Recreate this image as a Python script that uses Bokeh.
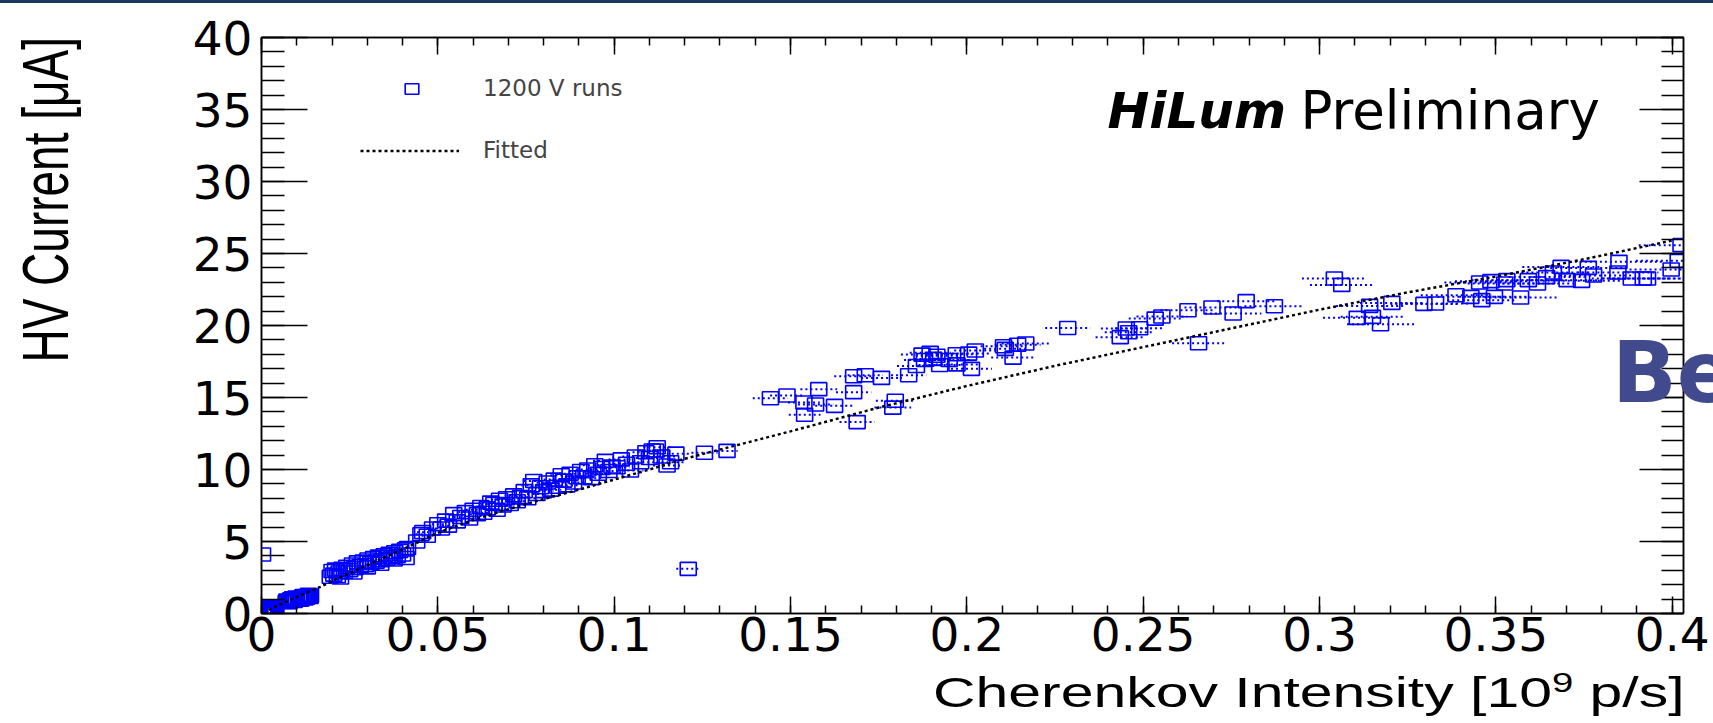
import math
from bokeh.plotting import figure
from bokeh.models import (Range1d, FixedTicker, LinearAxis, Label, Legend, LegendItem,
                          Div, ColumnDataSource, CustomLabelingPolicy)
from bokeh.layouts import column
from bokeh.embed import file_html
from bokeh.resources import INLINE

# ---------------- data ----------------
# Cherenkov intensity [1e9 p/s] and HV current [uA]
cher_A = [0.0004, 0.0008, 0.0012, 0.0016, 0.0020, 0.0024, 0.0028, 0.0032, 0.0036, 0.0040,
          0.0006, 0.0010, 0.0014, 0.0018, 0.0022, 0.0026, 0.0030, 0.0034,
          0.0005, 0.0015, 0.0025, 0.0035, 0.0010, 0.0020, 0.0030, 0.0040, 0.0008, 0.0038]
curr_A = [0.02, 0.08, 0.12, 0.18, 0.22, 0.28, 0.32, 0.38, 0.42, 0.45,
          0.30, 0.40, 0.00, 0.05, 0.10, 0.15, 0.10, 0.25,
          0.20, 0.30, 0.40, 0.20, 0.15, 0.35, 0.00, 0.30, 0.42, 0.05]

cher_B = [0.0070, 0.0075, 0.0080, 0.0085, 0.0090, 0.0095, 0.0100, 0.0105, 0.0110, 0.0115,
          0.0120, 0.0125, 0.0130, 0.0135, 0.0139, 0.0088, 0.0112, 0.0128,
          0.0072, 0.0078, 0.0083, 0.0093, 0.0098, 0.0108, 0.0118, 0.0123, 0.0133, 0.0138]
curr_B = [0.80, 0.85, 0.88, 0.92, 0.95, 1.00, 1.02, 1.06, 1.08, 1.12,
          1.15, 1.18, 1.20, 1.23, 1.25, 1.05, 0.98, 1.10,
          0.90, 0.78, 0.98, 0.88, 1.10, 0.95, 1.22, 1.05, 1.30, 1.15]

cher_C = [0.0195, 0.0200, 0.0205, 0.0210, 0.0215, 0.0220, 0.0228, 0.0235, 0.0242, 0.0250,
          0.0258, 0.0265, 0.0272, 0.0280, 0.0288, 0.0295, 0.0302, 0.0310, 0.0318, 0.0325,
          0.0332, 0.0340, 0.0348, 0.0355, 0.0362, 0.0370, 0.0378, 0.0385, 0.0392, 0.0400,
          0.0408, 0.0414, 0.0224, 0.0262, 0.0300, 0.0338, 0.0376, 0.0410]
curr_C = [2.55, 2.95, 2.70, 3.05, 2.60, 2.85, 3.10, 2.90, 3.25, 3.00,
          3.40, 3.15, 3.55, 3.30, 3.60, 3.35, 3.75, 3.50, 3.85, 3.60,
          3.95, 3.70, 4.05, 3.80, 4.15, 3.90, 4.25, 4.00, 4.35, 4.10,
          4.45, 4.55, 2.50, 2.85, 3.20, 3.45, 3.75, 3.85]

cher_D = [0.0440, 0.0452, 0.0457, 0.0470, 0.0485, 0.0500, 0.0510, 0.0522, 0.0530, 0.0545,
          0.0555, 0.0565, 0.0578, 0.0590, 0.0600, 0.0612, 0.0622, 0.0630, 0.0640, 0.0650,
          0.0659, 0.0668, 0.0675, 0.0685, 0.0695, 0.0705, 0.0715, 0.0725, 0.0734, 0.0745,
          0.0755, 0.0765, 0.0772, 0.0781, 0.0791, 0.0800, 0.0810, 0.0820, 0.0830, 0.0840,
          0.0850, 0.0857, 0.0866, 0.0875, 0.0885, 0.0895, 0.0905, 0.0914, 0.0925, 0.0935,
          0.0945, 0.0955, 0.0965, 0.0975, 0.0985, 0.0994, 0.1008, 0.1020, 0.1035, 0.1046,
          0.1060, 0.1075, 0.1090, 0.1100, 0.1108, 0.1117, 0.1122, 0.1135, 0.1150, 0.1160,
          0.1175, 0.1256, 0.1320, 0.1210, 0.0003]
curr_D = [5.00, 5.50, 5.65, 5.40, 5.90, 6.20, 5.90, 6.45, 6.10, 6.90,
          6.40, 6.70, 7.04, 6.60, 7.20, 6.90, 7.40, 7.00, 7.30, 7.70,
          7.60, 7.20, 7.90, 7.50, 8.00, 7.60, 8.20, 7.80, 8.08, 8.50,
          8.00, 8.90, 9.20, 8.30, 8.77, 8.50, 9.10, 8.60, 9.30, 8.80,
          9.60, 9.23, 8.90, 9.70, 9.10, 9.46, 9.90, 9.46, 10.00, 9.40,
          10.30, 9.70, 10.10, 10.60, 9.90, 10.20, 10.16, 10.70, 10.40, 9.93,
          10.90, 10.50, 11.20, 10.80, 11.32, 11.32, 11.55, 10.90, 10.28, 10.50,
          11.10, 11.16, 11.29, 3.10, 4.10]
err_D = [0.0015, 0.0015, 0.0016, 0.0016, 0.0017, 0.0017, 0.0018, 0.0018, 0.0018, 0.0019,
         0.0019, 0.0020, 0.0020, 0.0020, 0.0021, 0.0021, 0.0022, 0.0022, 0.0022, 0.0023,
         0.0023, 0.0024, 0.0024, 0.0024, 0.0025, 0.0025, 0.0026, 0.0026, 0.0026, 0.0027,
         0.0027, 0.0028, 0.0028, 0.0028, 0.0029, 0.0029, 0.0030, 0.0030, 0.0030, 0.0031,
         0.0031, 0.0031, 0.0032, 0.0032, 0.0032, 0.0033, 0.0033, 0.0033, 0.0034, 0.0034,
         0.0034, 0.0035, 0.0035, 0.0035, 0.0035, 0.0036, 0.0036, 0.0036, 0.0037, 0.0037,
         0.0037, 0.0038, 0.0038, 0.0038, 0.0038, 0.0039, 0.0039, 0.0039, 0.0040, 0.0040,
         0.0040, 0.0037, 0.0030, 0.0034, 0.0000]

cher_E = [0.1443, 0.1490, 0.1538, 0.1571, 0.1580, 0.1625, 0.1540, 0.1679, 0.1679, 0.1712,
          0.1758, 0.1689, 0.1797, 0.1790, 0.1835, 0.1857, 0.1873, 0.1896, 0.1906, 0.1923,
          0.1970, 0.1972, 0.2005, 0.2024, 0.2013, 0.2104, 0.2109, 0.2131, 0.2144, 0.2167,
          0.2286, 0.2435, 0.2452, 0.2459, 0.2490, 0.2534, 0.2553, 0.2627, 0.2657, 0.1880,
          0.1915, 0.1950]
curr_E = [14.95, 15.14, 14.65, 14.51, 15.58, 14.42, 13.80, 15.37, 16.48, 16.55,
          16.36, 13.29, 14.77, 14.30, 16.55, 17.19, 17.98, 18.10, 17.68, 17.26,
          18.00, 17.30, 18.05, 18.26, 16.99, 18.56, 18.38, 17.77, 18.66, 18.75,
          19.83, 19.19, 19.79, 19.53, 19.81, 20.48, 20.62, 21.06, 18.77, 17.60,
          17.90, 17.60]
err_E = [0.0050, 0.0048, 0.0045, 0.0050, 0.0052, 0.0055, 0.0045, 0.0050, 0.0055, 0.0050,
         0.0058, 0.0050, 0.0055, 0.0052, 0.0050, 0.0055, 0.0060, 0.0058, 0.0055, 0.0060,
         0.0058, 0.0060, 0.0062, 0.0060, 0.0058, 0.0065, 0.0060, 0.0062, 0.0065, 0.0068,
         0.0064, 0.0070, 0.0072, 0.0068, 0.0070, 0.0075, 0.0072, 0.0078, 0.0075, 0.0058,
         0.0060, 0.0062]

cher_F = [0.2695, 0.2755, 0.2792, 0.2872, 0.3042, 0.3063, 0.3142, 0.3107, 0.3150, 0.3173,
          0.3205, 0.3296, 0.3329, 0.3387, 0.3429, 0.3454, 0.3460, 0.3486, 0.3496, 0.3525,
          0.3531, 0.3570, 0.3592, 0.3618, 0.3644, 0.3663, 0.3685, 0.3702, 0.3743, 0.3762,
          0.3777, 0.3849, 0.3846, 0.3884, 0.3918, 0.3930, 0.3997, 0.4017, 0.4025]
curr_F = [21.25, 20.83, 21.69, 21.34, 23.26, 22.82, 21.36, 20.53, 20.60, 20.09,
          21.57, 21.50, 21.53, 22.10, 21.99, 22.99, 21.76, 23.08, 21.99, 22.92,
          23.15, 21.94, 23.15, 22.92, 23.36, 23.68, 24.07, 23.15, 23.10, 24.00,
          23.47, 24.42, 23.68, 23.26, 23.26, 23.26, 23.89, 24.49, 25.58]
err_F = [0.0078, 0.0080, 0.0082, 0.0085, 0.0092, 0.0090, 0.0095, 0.0097, 0.0090, 0.0095,
         0.0090, 0.0095, 0.0098, 0.0100, 0.0095, 0.0100, 0.0098, 0.0102, 0.0100, 0.0105,
         0.0100, 0.0102, 0.0105, 0.0100, 0.0108, 0.0105, 0.0110, 0.0105, 0.0110, 0.0108,
         0.0112, 0.0125, 0.0115, 0.0112, 0.0115, 0.0110, 0.0118, 0.0120, 0.0120]

# fitted curve
fit_x = [0.002, 0.010, 0.0167, 0.020, 0.030, 0.040, 0.050, 0.060, 0.070, 0.080, 0.090,
         0.100, 0.110, 0.120, 0.135, 0.150, 0.175, 0.200, 0.225, 0.250, 0.275, 0.300,
         0.325, 0.350, 0.375, 0.400]
fit_y = [0.25, 1.15, 1.85, 2.25, 3.35, 4.45, 5.60, 6.50, 7.25, 7.95, 8.60,
         9.30, 10.00, 10.75, 11.70, 12.65, 14.30, 15.80, 17.20, 18.50, 19.80, 21.10,
         22.30, 23.40, 24.60, 25.90]

x_ticks = [0, 0.05, 0.1, 0.15, 0.2, 0.25, 0.3, 0.35, 0.4]
x_tick_labels = ["0", "0.05", "0.1", "0.15", "0.2", "0.25", "0.3", "0.35", "0.4"]
x_minor = [round(i * 0.01, 2) for i in range(41)]
y_ticks = [0, 5, 10, 15, 20, 25, 30, 35, 40]
y_tick_labels = ["0", "5", "10", "15", "20", "25", "30", "35", "40"]
y_minor = list(range(41))

x_title_main, x_title_sup, x_title_end = "Cherenkov Intensity [10", "9", " p/s]"
y_title = "HV Current [\u03bcA]"

# ---------------- figure ----------------
FONT = "DejaVu Sans"
BLUE = "#0000ff"

p = figure(width=1713, height=720, output_backend="svg", toolbar_location=None,
           x_range=Range1d(0, 0.4032), y_range=Range1d(0, 40),
           x_axis_location=None, y_axis_location=None,
           min_border_left=261, min_border_right=30, min_border_top=34, min_border_bottom=110)
p.xgrid.visible = False
p.ygrid.visible = False
p.outline_line_color = "black"
p.outline_line_width = 1.5
p.background_fill_color = "white"
p.border_fill_color = "white"


def make_axis(ticker, overrides, tick_in, minor_in, show_labels):
    ax = LinearAxis(ticker=ticker, major_label_overrides=overrides,
                    axis_line_width=1.5, axis_line_color="black",
                    major_tick_line_width=1.5, minor_tick_line_width=1.5,
                    major_tick_in=tick_in, major_tick_out=0,
                    minor_tick_in=minor_in, minor_tick_out=0,
                    major_label_text_font=FONT,
                    major_label_text_color="black")
    if show_labels:
        ax.major_label_text_font_size = "47px"
    else:
        ax.major_label_text_font_size = "1px"
        ax.major_label_standoff = 0
        ax.major_label_policy = CustomLabelingPolicy(code="return []")
    return ax


x_over = {v: s for v, s in zip(x_ticks, x_tick_labels)}
y_over = {v: s for v, s in zip(y_ticks, y_tick_labels)}

xb = make_axis(FixedTicker(ticks=x_ticks, minor_ticks=x_minor), x_over, 17, 8, True)
xb.major_label_standoff = 3
xt = make_axis(FixedTicker(ticks=x_ticks, minor_ticks=x_minor), x_over, 17, 8, False)
yl = make_axis(FixedTicker(ticks=y_ticks, minor_ticks=y_minor), y_over, 46, 23, True)
yl.major_label_standoff = 9
yr = make_axis(FixedTicker(ticks=y_ticks, minor_ticks=y_minor), y_over, 44, 22, False)
p.add_layout(xb, "below")
p.add_layout(xt, "above")
p.add_layout(yl, "left")
p.add_layout(yr, "right")

# all points
all_x = cher_A + cher_B + cher_C + cher_D + cher_E + cher_F
all_y = curr_A + curr_B + curr_C + curr_D + curr_E + curr_F
pts = ColumnDataSource(dict(x=all_x, y=all_y))

ex = cher_D + cher_E + cher_F
ey = curr_D + curr_E + curr_F
ee = err_D + err_E + err_F
errs = ColumnDataSource(dict(x0=[a - e for a, e in zip(ex, ee)],
                             x1=[a + e for a, e in zip(ex, ee)], y=ey))

p.segment(x0="x0", y0="y", x1="x1", y1="y", source=errs, line_color=BLUE,
          line_width=2, line_dash="2 3")
sq = p.rect(x="x", y="y", width=16, height=13, width_units="screen", height_units="screen",
            source=pts, fill_color=None, line_color=BLUE, line_width=1.6)
fit = p.line(fit_x, fit_y, line_color="black", line_width=2.5, line_dash="3 3")

# legends (ROOT-style, no box)
leg1 = Legend(items=[LegendItem(label="1200 V runs", renderers=[sq])],
              location=(142, 512), glyph_width=17, glyph_height=13, label_standoff=63,
              label_text_font=FONT, label_text_font_size="23px", padding=0, margin=0,
              spacing=0, border_line_color=None, background_fill_alpha=0)
leg2 = Legend(items=[LegendItem(label="Fitted", renderers=[fit])],
              location=(99, 450), glyph_width=99, glyph_height=25, label_standoff=24,
              label_text_font=FONT, label_text_font_size="23px", padding=0, margin=0,
              spacing=0, border_line_color=None, background_fill_alpha=0)
p.add_layout(leg1)
p.add_layout(leg2)

# "HiLum Preliminary"
p.add_layout(Label(x=846, y=503, x_units="screen", y_units="screen", text="HiLum",
                   text_font=FONT, text_font_style="bold italic", text_font_size="50px",
                   text_baseline="alphabetic", text_color="black"))
p.add_layout(Label(x=1039, y=503, x_units="screen", y_units="screen", text="Preliminary",
                   text_font=FONT, text_font_size="53px", text_baseline="alphabetic",
                   text_color="black"))

# axis titles (ROOT style, flush with the right / top end; the original canvas
# was stretched horizontally, hence the scale) and the slide decoration "Be"
common = "position:absolute; white-space:nowrap; z-index:10; color:#000000;"
x_title_html = (
    f'<span style="{common} right:28px; top:671px; font-family:\'Liberation Sans\'; '
    f'font-size:43px; line-height:43px; transform:scaleX(1.37); transform-origin:100% 0;">'
    f'{x_title_main}<span style="font-size:0.65em; vertical-align:0.55em; line-height:0;">'
    f'{x_title_sup}</span>{x_title_end}</span>')
y_title_html = (
    f'<span style="{common} right:1699px; top:37px; font-family:\'Liberation Sans\'; '
    f'font-size:46px; line-height:46px; transform:rotate(-90deg) scaleY(1.4); '
    f'transform-origin:100% 0;">{y_title}</span>')
be_html = ('<span style="position:absolute; white-space:nowrap; z-index:10; left:1612px; '
           'top:330px; font-family:\'DejaVu Sans\'; font-weight:bold; font-size:85px; '
           'line-height:85px; color:#404a8c;">Be</span>')

top_bar = Div(text=x_title_html + y_title_html + be_html, width=1713, height=3, margin=0,
              styles={"background-color": "#1b355b", "overflow": "visible"})
layout = column(top_bar, p, spacing=0)

open("out.html", "w").write(file_html(layout, INLINE))
